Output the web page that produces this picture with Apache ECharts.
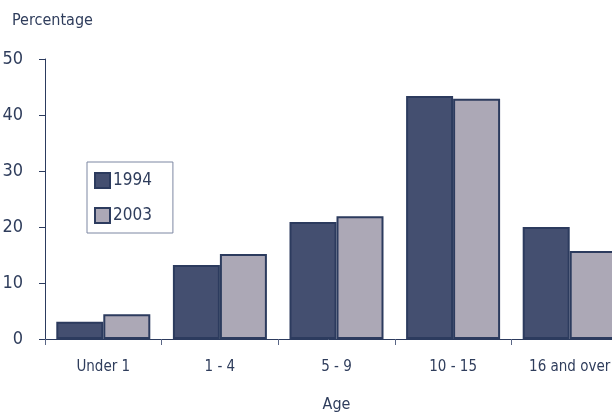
<!DOCTYPE html>
<html>
<head>
<meta charset="utf-8">
<script src="https://cdn.jsdelivr.net/npm/echarts@6/dist/echarts.min.js"></script>
<style>
  html, body { margin: 0; padding: 0; background: #ffffff; }
  #chart { width: 612px; height: 413px; }
</style>
</head>
<body>
<div id="chart"></div>
<script>
// Age groups and percentage shares for the two survey years
const categories = ['Under 1', '1 - 4', '5 - 9', '10 - 15', '16 and over'];
const values1994 = [3.1, 13.2, 20.9, 43.4, 20.0];
const values2003 = [4.4, 15.2, 21.9, 42.9, 15.7];
const yTicks = { min: 0, max: 50, interval: 10 };

const FONT = '"Liberation Sans Narrow", "DejaVu Sans Condensed", sans-serif';
const INK = '#2f3d5c';
const EDGE = '#2c3b5e';

const chart = echarts.init(document.getElementById('chart'), null, { renderer: 'canvas' });

chart.setOption({
  animation: false,
  backgroundColor: '#ffffff',
  textStyle: { fontFamily: FONT, color: INK },
  // the plot runs past the right edge, so the last pair of bars is cut off
  grid: { left: 45, top: 59, width: 583, height: 280, containLabel: false, outerBoundsMode: 'none' },
  graphic: [{
    type: 'text',
    left: 12,
    top: 13,
    style: { text: 'Percentage', font: '16px ' + FONT, fill: INK }
  }],
  legend: {
    orient: 'vertical',
    left: 87,
    top: 162,
    padding: [10, 21, 9, 7],
    itemWidth: 15,
    itemHeight: 15,
    itemGap: 18,
    icon: 'rect',
    borderColor: '#7d87a2',
    borderWidth: 1,
    textStyle: { fontFamily: FONT, fontSize: 17, color: INK, padding: [0, 0, 0, -2] },
    data: ['1994', '2003']
  },
  xAxis: {
    type: 'category',
    data: categories,
    name: 'Age',
    nameLocation: 'middle',
    nameGap: 58,
    nameTextStyle: { fontFamily: FONT, fontSize: 16, color: INK },
    axisLine: { lineStyle: { color: EDGE, width: 1 } },
    axisTick: { show: true, interval: 0, length: 6, lineStyle: { color: '#5a6686', width: 1 } },
    axisLabel: { interval: 0, fontFamily: FONT, fontSize: 15, color: INK, margin: 21 }
  },
  yAxis: {
    type: 'value',
    min: yTicks.min,
    max: yTicks.max,
    interval: yTicks.interval,
    splitLine: { show: false },
    axisLine: { show: true, lineStyle: { color: EDGE, width: 1 } },
    axisTick: { show: true, length: 6, lineStyle: { color: EDGE, width: 1 } },
    axisLabel: { fontFamily: FONT, fontSize: 18, color: INK, margin: 22 }
  },
  series: [
    {
      name: '1994',
      type: 'bar',
      data: values1994,
      barWidth: 47,
      barGap: '0%',
      itemStyle: { color: '#444f70', borderColor: EDGE, borderWidth: 2 }
    },
    {
      name: '2003',
      type: 'bar',
      data: values2003,
      barWidth: 47,
      barGap: '0%',
      itemStyle: { color: '#aca8b6', borderColor: EDGE, borderWidth: 2 }
    }
  ]
});
</script>
</body>
</html>
